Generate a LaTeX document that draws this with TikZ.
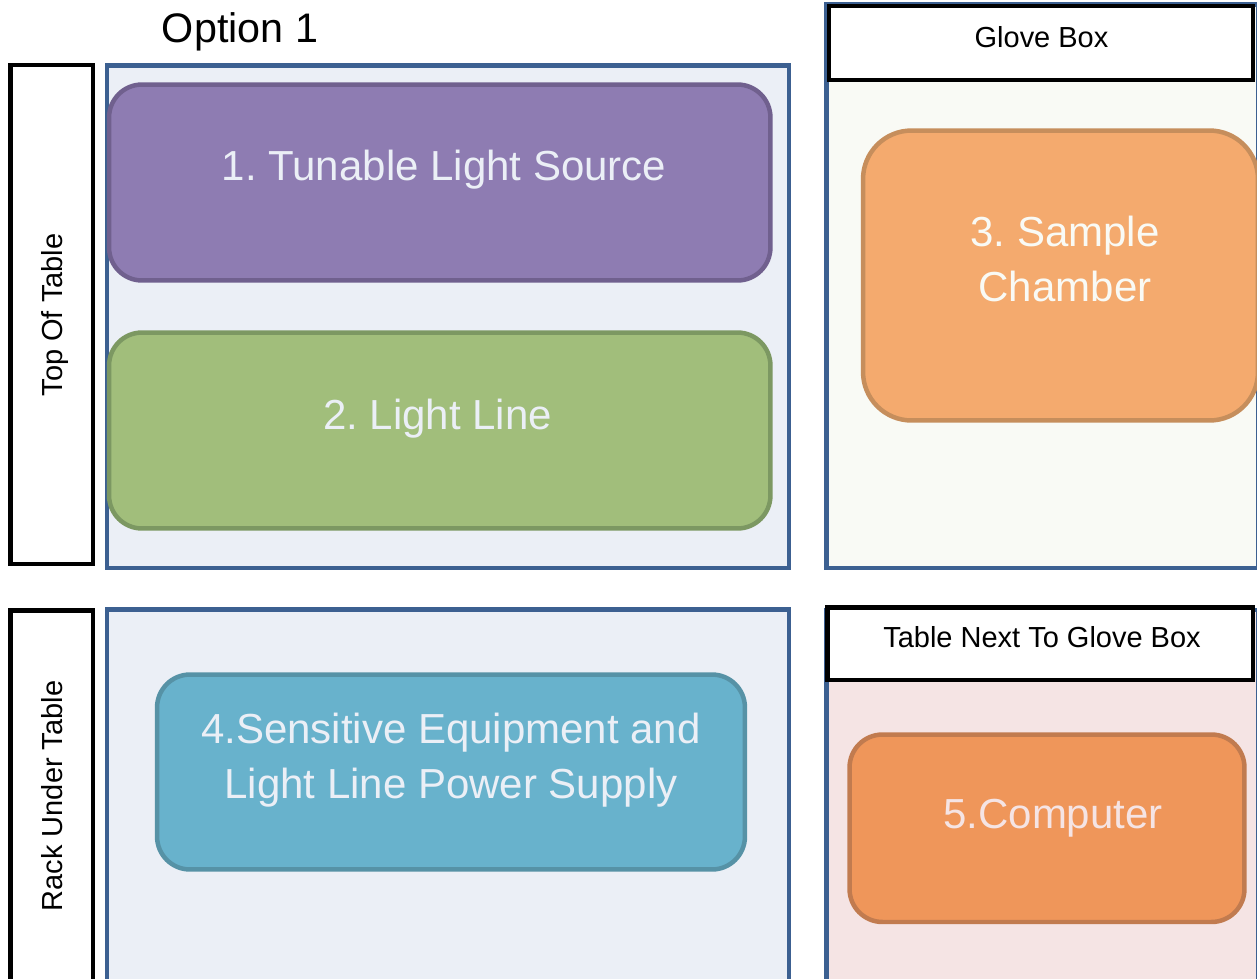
\documentclass[tikz,border=0pt]{standalone}
\usepackage{fontspec}
\setmainfont{Liberation Sans}
\frenchspacing
\usetikzlibrary{positioning}
\definecolor{panelBlue}{RGB}{235,239,246}
\definecolor{panelEdge}{RGB}{60,96,145}
\definecolor{gloveFill}{RGB}{249,250,245}
\definecolor{tableFill}{RGB}{245,228,228}
\definecolor{srcFill}{RGB}{142,124,178}
\definecolor{srcEdge}{RGB}{112,96,142}
\definecolor{lineFill}{RGB}{161,190,123}
\definecolor{lineEdge}{RGB}{124,152,98}
\definecolor{chamberFill}{RGB}{244,170,110}
\definecolor{chamberEdge}{RGB}{198,142,92}
\definecolor{rackFill}{RGB}{104,178,204}
\definecolor{rackEdge}{RGB}{86,146,166}
\definecolor{pcFill}{RGB}{239,150,90}
\definecolor{pcEdge}{RGB}{193,123,79}

\begin{document}
\begin{tikzpicture}[x=0.02cm, y=-0.02cm,
    every node/.style={inner sep=0pt, outer sep=0pt},
    bigtext/.style={font=\fontsize{23.9}{31.3}\selectfont, align=center},
    smalltext/.style={font=\fontsize{16.5}{20}\selectfont},
    panel/.style={draw=panelEdge, line width=0.085cm},
    tag/.style={draw=black, fill=white, line width=0.09cm},
    unit/.style={rectangle, rounded corners=0.66cm, line width=0.09cm}]
    \useasboundingbox (0,0) rectangle (1257,978);
    \clip (0,0) rectangle (1257,978);
    % panels
    \draw[tag] (10.5,65) rectangle (93,564);
    \draw[panel, fill=panelBlue] (107,65.5) rectangle (789,568);
    \draw[tag] (10.5,610.5) rectangle (93,1000);
    \draw[panel, fill=panelBlue] (107,609.5) rectangle (789,1000);
    \draw[panel, fill=gloveFill] (826.5,4.5) rectangle (1258,568);
    \draw[tag] (829,6) rectangle (1253,80);
    \draw[panel, fill=tableFill] (826.5,610) rectangle (1258,1000);
    \draw[tag] (827.5,607.5) rectangle (1253,680);
    % labels
    \node[font=\fontsize{23.5}{28}\selectfont, anchor=base] (opt) at (240,42) {Option 1};
    \node[smalltext, rotate=90, anchor=base] (top) at (62,315) {Top Of Table};
    \node[smalltext, rotate=90, anchor=base] (rack) at (62,796) {Rack Under Table};
    \node[smalltext, anchor=base] (glove) at (1041.5,47) {Glove Box};
    \node[smalltext, anchor=base] (next) at (1042,647) {Table Next To Glove Box};
    % equipment
    \node[unit, draw=srcEdge, fill=srcFill, minimum width=13.23cm, minimum height=3.92cm] (src) at (439.75,182.5) {};
    \node[bigtext, text=panelBlue, anchor=base] (srcT) at (444,180) {1. Tunable Light Source};
    \node[unit, draw=lineEdge, fill=lineFill, minimum width=13.23cm, minimum height=3.92cm] (ll) at (439.75,430.5) {};
    \node[bigtext, text=panelBlue, anchor=base] (llT) at (437.5,429) {2. Light Line};
    \node[unit, rounded corners=0.97cm, draw=chamberEdge, fill=chamberFill, minimum width=7.9cm, minimum height=5.8cm] (ch) at (1060.5,275.5) {};
    \node[bigtext, text=gloveFill] (chT) at (1065,259) {3. Sample\\Chamber};
    \node[unit, draw=rackEdge, fill=rackFill, minimum width=11.76cm, minimum height=3.9cm] (eq) at (451,772) {};
    \node[bigtext, text=panelBlue] (eqT) at (451,760) {4.Sensitive Equipment and\\Light Line Power Supply};
    \node[unit, draw=pcEdge, fill=pcFill, minimum width=7.9cm, minimum height=3.75cm] (pc) at (1047,828.25) {};
    \node[bigtext, text=tableFill, anchor=base] (pcT) at (1053,828.3) {5.Computer};
\end{tikzpicture}
\end{document}
